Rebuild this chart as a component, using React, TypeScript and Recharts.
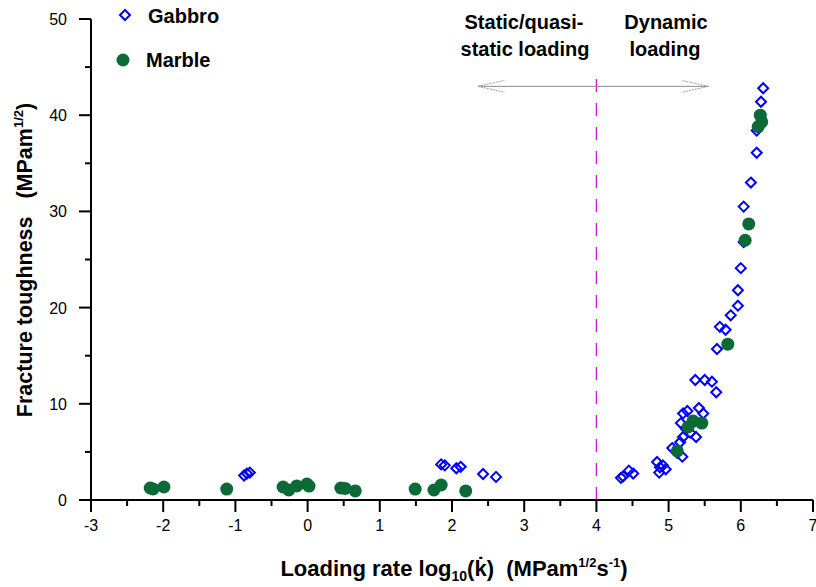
import { ScatterChart, Scatter, XAxis, YAxis, ReferenceLine } from 'recharts'

// Gabbro (open blue diamonds)
const gabbroX = [
  -0.88, -0.84, -0.8, 1.85, 1.9, 2.06, 2.12, 2.43, 2.61,
  4.34, 4.37, 4.45, 4.51, 4.84, 4.87, 4.88, 4.92, 4.96, 5.05, 5.12, 5.16, 5.19, 5.2, 5.17,
  5.2, 5.24, 5.26, 5.3, 5.38, 5.42, 5.48, 5.37, 5.5, 5.6, 5.66, 5.67, 5.71, 5.79, 5.86,
  5.96, 5.96, 6.0, 6.04, 6.04, 6.14, 6.22, 6.22, 6.28, 6.31,
]
const gabbroY = [
  2.55, 2.75, 2.85, 3.7, 3.6, 3.3, 3.45, 2.7, 2.4,
  2.3, 2.45, 3.05, 2.75, 3.95, 2.85, 3.4, 3.6, 3.2, 5.4, 4.9, 6.0, 4.5, 6.55, 8.0,
  9.0, 7.4, 9.25, 7.0, 6.55, 9.56, 9.0, 12.47, 12.47, 12.3, 11.2, 15.7, 18.0, 17.7, 19.2,
  20.2, 21.8, 24.1, 26.8, 30.5, 33.0, 36.1, 38.4, 41.4, 42.8,
]

// Marble (filled green circles)
const marbleX = [
  -2.18, -2.14, -1.99, -1.12, -0.34, -0.26, -0.15, -0.01, 0.02, 0.46, 0.52, 0.66,
  1.49, 1.75, 1.85, 2.19,
  5.12, 5.27, 5.34, 5.46, 5.82, 6.06, 6.11, 6.24, 6.29, 6.27,
]
const marbleY = [
  1.25, 1.15, 1.35, 1.14, 1.35, 1.04, 1.46, 1.66, 1.45, 1.25, 1.2, 0.94,
  1.14, 1.04, 1.56, 0.94,
  5.1, 7.6, 8.2, 8.0, 16.2, 27.0, 28.7, 38.8, 39.3, 40.0,
]

const xTicks = [-3, -2.5, -2, -1.5, -1, -0.5, 0, 0.5, 1, 1.5, 2, 2.5, 3, 3.5, 4, 4.5, 5, 5.5, 6, 6.5, 7]
const yTicks = [0, 5, 10, 15, 20, 25, 30, 35, 40, 45, 50]

const gabbro = gabbroX.map((x, i) => ({ x, y: gabbroY[i] }))
const marble = marbleX.map((x, i) => ({ x, y: marbleY[i] }))

const FONT = 'Arial, "Liberation Sans", sans-serif'
const BLUE = '#0000ff'
const GREEN = '#0b6a36'

function Diamond(props: any) {
  const { cx, cy } = props
  const r = 5
  return (
    <polygon
      points={`${cx},${cy - r} ${cx + r},${cy} ${cx},${cy + r} ${cx - r},${cy}`}
      fill="none" stroke={BLUE} strokeWidth={2}
    />
  )
}

function Dot(props: any) {
  const { cx, cy } = props
  return <circle cx={cx} cy={cy} r={6.5} fill={GREEN} />
}

function XTick(props: any) {
  const { x, y, payload } = props
  const major = Number.isInteger(payload.value)
  return (
    <g>
      <line x1={x} y1={y} x2={x} y2={y + (major ? 12 : 6)} stroke="#000" strokeWidth={2} />
      {major && (
        <text x={x} y={y + 31} textAnchor="middle" fontSize={16} fontFamily={FONT} fill="#000">
          {payload.value}
        </text>
      )}
    </g>
  )
}

function YTick(props: any) {
  const { x, y, payload } = props
  const major = payload.value % 10 === 0
  return (
    <g>
      <line x1={x} y1={y} x2={x - (major ? 12 : 6)} y2={y} stroke="#000" strokeWidth={2} />
      {major && (
        <text x={x - 24} y={y + 6} textAnchor="end" fontSize={16} fontFamily={FONT} fill="#000">
          {payload.value}
        </text>
      )}
    </g>
  )
}

export default function App() {
  return (
    <div style={{ position: 'relative', width: 816, height: 587, background: '#fff' }}>
      <style>{'body{margin:0}'}</style>
      <ScatterChart width={816} height={587} margin={{ top: 19, right: 3, left: 0, bottom: 0 }}>
        <XAxis
          type="number" dataKey="x" domain={[-3, 7]} ticks={xTicks} interval={0}
          height={87} tickSize={0} tickMargin={0} tickLine={false}
          axisLine={{ stroke: '#000', strokeWidth: 2 }} tick={<XTick />} allowDataOverflow
        />
        <YAxis
          type="number" dataKey="y" domain={[0, 50]} ticks={yTicks} interval={0}
          width={91} tickSize={0} tickMargin={0} tickLine={false}
          axisLine={{ stroke: '#000', strokeWidth: 2 }} tick={<YTick />} allowDataOverflow
        />
        <ReferenceLine
          segment={[{ x: 4, y: 0 }, { x: 4, y: 44 }]}
          stroke="#d414d4" strokeWidth={1.3} strokeDasharray="13 11"
        />
        <ReferenceLine segment={[{ x: 2.36, y: 43 }, { x: 5.55, y: 43 }]} stroke="#8a8a8a" strokeWidth={1} />
        <ReferenceLine segment={[{ x: 2.36, y: 43 }, { x: 2.73, y: 43.62 }]} stroke="#999" strokeWidth={1} strokeDasharray="2 1" />
        <ReferenceLine segment={[{ x: 2.36, y: 43 }, { x: 2.73, y: 42.38 }]} stroke="#999" strokeWidth={1} strokeDasharray="2 1" />
        <ReferenceLine segment={[{ x: 5.55, y: 43 }, { x: 5.18, y: 43.62 }]} stroke="#999" strokeWidth={1} strokeDasharray="2 1" />
        <ReferenceLine segment={[{ x: 5.55, y: 43 }, { x: 5.18, y: 42.38 }]} stroke="#999" strokeWidth={1} strokeDasharray="2 1" />
        <Scatter name="Gabbro" data={gabbro} shape={<Diamond />} isAnimationActive={false} />
        <Scatter name="Marble" data={marble} shape={<Dot />} isAnimationActive={false} />
      </ScatterChart>
      <svg width={816} height={587} style={{ position: 'absolute', left: 0, top: 0, pointerEvents: 'none' }}>
        <g fontFamily={FONT} fontWeight="bold" fill="#000">
          {/* legend */}
          <polygon points="125,10 130,15 125,20 120,15" fill="none" stroke={BLUE} strokeWidth={2} />
          <text x={148} y={23} fontSize={20}>Gabbro</text>
          <circle cx={123} cy={60} r={6.5} fill={GREEN} />
          <text x={146} y={67} fontSize={20}>Marble</text>

          {/* region labels */}
          <text x={524} y={29} fontSize={20} textAnchor="middle">Static/quasi-</text>
          <text x={525} y={56} fontSize={20} textAnchor="middle">static loading</text>
          <text x={666} y={29} fontSize={20} textAnchor="middle">Dynamic</text>
          <text x={665} y={56} fontSize={20} textAnchor="middle">loading</text>

          {/* axis titles */}
          <text x={454} y={576} fontSize={22} textAnchor="middle" style={{ whiteSpace: 'pre' }}>
            Loading rate log<tspan fontSize={14} dy={5}>10</tspan>
            <tspan dy={-5}>(k{'\u0307'})  (MPam</tspan>
            <tspan fontSize={13} dy={-9}>1/2</tspan>
            <tspan dy={9}>s</tspan>
            <tspan fontSize={13} dy={-9}>-1</tspan>
            <tspan dy={9}>)</tspan>
          </text>
          <text
            x={0} y={0} fontSize={21.5} textAnchor="middle" style={{ whiteSpace: 'pre' }}
            transform="translate(32,260) rotate(-90)"
          >
            Fracture toughness   (MPam<tspan fontSize={13} dy={-9}>1/2</tspan>
            <tspan dy={9}>)</tspan>
          </text>
        </g>
      </svg>
    </div>
  )
}
